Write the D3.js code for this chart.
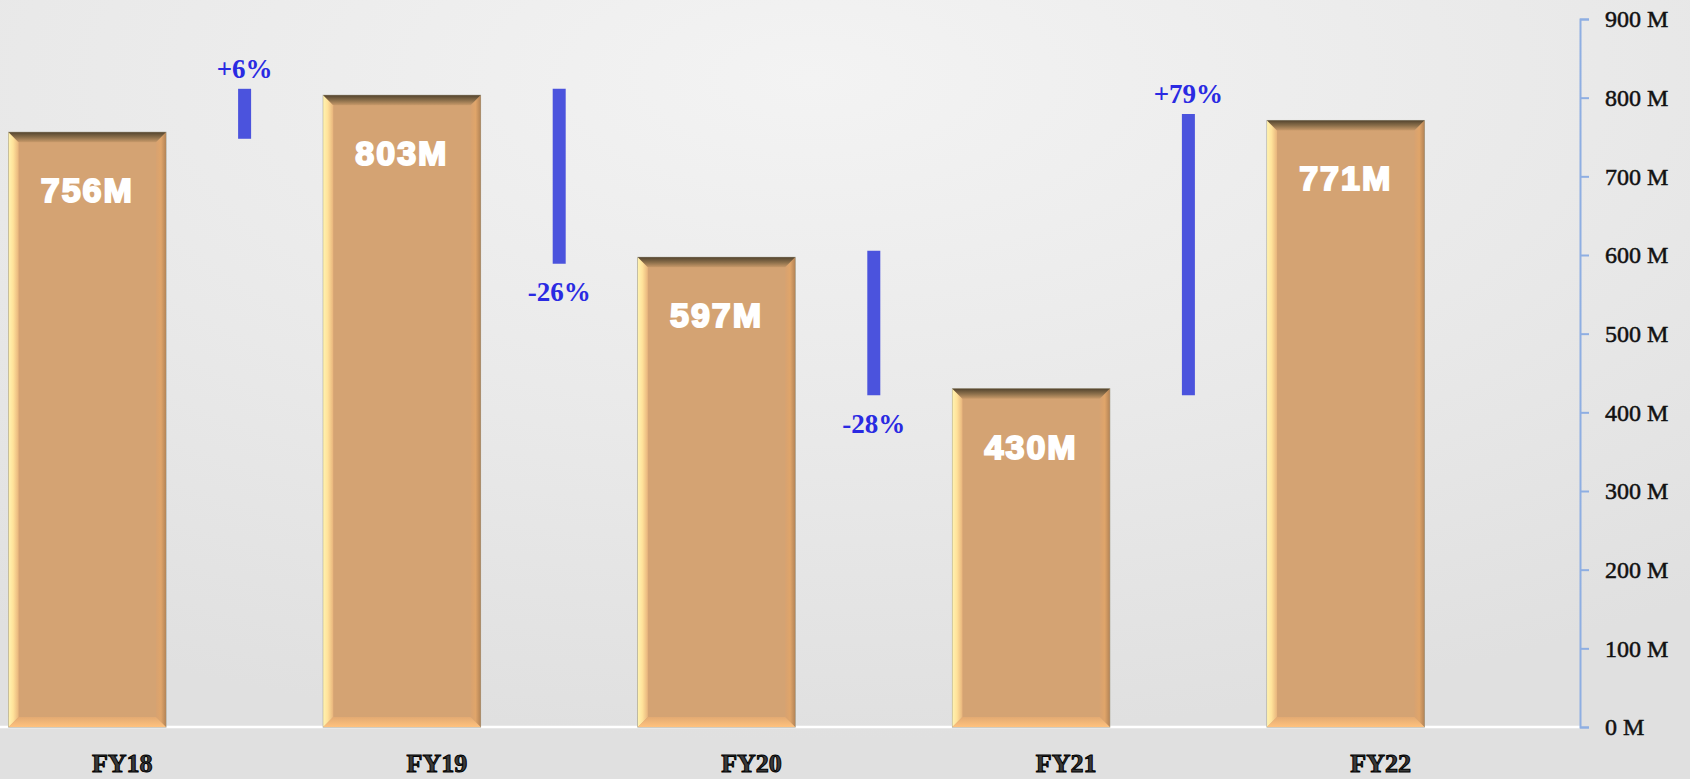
<!DOCTYPE html>
<html>
<head>
<meta charset="utf-8">
<script src="https://cdn.jsdelivr.net/npm/d3@7"></script>
<style>
  html, body { margin: 0; padding: 0; overflow: hidden; }
  svg { display: block; }
</style>
</head>
<body>
<script>
// chart data
const years = ["FY18", "FY19", "FY20", "FY21", "FY22"];
const revenue = [756, 803, 597, 430, 771];          // millions
const barLabels = ["756M", "803M", "597M", "430M", "771M"];
const changeLabels = ["+6%", "-26%", "-28%", "+79%"];
const yTicks = [0, 100, 200, 300, 400, 500, 600, 700, 800, 900];

const W = 1690, H = 779;

const svg = d3.select("body").append("svg")
    .attr("width", W)
    .attr("height", H);

const defs = svg.append("defs");

//background glow, lighter at top centre
const bg = defs.append("radialGradient")
    .attr("id", "bg")
    .attr("cx", "48%").attr("cy", "10%").attr("r", "85%")
    .attr("gradientUnits", "objectBoundingBox");
bg.append("stop").attr("offset", "0%").attr("stop-color", "#f3f3f3");
bg.append("stop").attr("offset", "55%").attr("stop-color", "#e9e9e9");
bg.append("stop").attr("offset", "100%").attr("stop-color", "#e0e0e0");

svg.append("rect")
    .attr("width", W).attr("height", H)
    .attr("fill", "url(#bg)");

// bevel gradients for the bars
function grad(id, x1, y1, x2, y2, stops) {
    const g = defs.append("linearGradient")
        .attr("id", id)
        .attr("x1", x1).attr("y1", y1).attr("x2", x2).attr("y2", y2);
    stops.forEach(s => g.append("stop").attr("offset", s[0]).attr("stop-color", s[1]));
}
grad("bevLeft", "0", "0", "1", "0", [["0%", "#fff3b0"], ["45%", "#ffe29a"], ["100%", "#e8b47c"]]);
grad("bevTop", "0", "0", "0", "1", [["0%", "#54452f"], ["50%", "#8a6e4a"], ["100%", "#c99a6a"]]);
grad("bevRight", "1", "0", "0", "0", [["0%", "#b48456"], ["50%", "#e0a56a"], ["100%", "#d7a271"]]);
grad("bevBottom", "0", "1", "0", "0", [["0%", "#ffc27e"], ["100%", "#e3aa72"]]);

//scales
const x = d3.scaleBand()
    .domain(years)
    .range([-70, 1503])
    .paddingInner(0.5)
    .paddingOuter(0.25);

const y = d3.scaleLinear()
    .domain([0, 900])
    .range([727, 19]);

const axisX = 1580;

// baseline
svg.append("line")
    .attr("x1", 0).attr("x2", axisX)
    .attr("y1", y(0)).attr("y2", y(0))
    .attr("stroke", "#ffffff")
    .attr("stroke-width", 2.5);

// bars
const bev = 10;
const bars = svg.append("g").selectAll("g")
    .data(years)
    .join("g");

bars.each(function(d, i) {
    const g = d3.select(this);
    const x0 = x(d), x1 = x(d) + x.bandwidth();
    const y0 = y(revenue[i]), y1 = y(0);
    g.append("rect")
        .attr("x", x0).attr("y", y0)
        .attr("width", x1 - x0).attr("height", y1 - y0)
        .attr("fill", "#d4a373")
        .attr("stroke", "#9e9a88")
        .attr("stroke-width", 1);
    const poly = (pts, fill) => g.append("polygon")
        .attr("points", pts.map(p => p.join(",")).join(" "))
        .attr("fill", fill);
    poly([[x0, y0], [x0 + bev, y0 + bev], [x0 + bev, y1 - bev], [x0, y1]], "url(#bevLeft)");
    poly([[x1, y0], [x1 - bev, y0 + bev], [x1 - bev, y1 - bev], [x1, y1]], "url(#bevRight)");
    poly([[x0, y1], [x0 + bev, y1 - bev], [x1 - bev, y1 - bev], [x1, y1]], "url(#bevBottom)");
    poly([[x0, y0], [x0 + bev, y0 + bev], [x1 - bev, y0 + bev], [x1, y0]], "url(#bevTop)");
});

// value labels inside the bars
svg.append("g").selectAll("text")
    .data(years)
    .join("text")
    .attr("x", d => x(d) + x.bandwidth() / 2)
    .attr("y", (d, i) => y(revenue[i]) + 70)
    .attr("text-anchor", "middle")
    .attr("font-family", "Liberation Sans, Arial, sans-serif")
    .attr("font-weight", "bold")
    .attr("font-size", 34)
    .attr("letter-spacing", 2)
    .attr("fill", "#ffffff")
    .attr("stroke", "#ffffff")
    .attr("stroke-width", 2)
    .text((d, i) => barLabels[i]);

// change markers between bars
const changes = changeLabels.map((lab, i) => ({
    label: lab,
    cx: (x(years[i]) + x(years[i + 1]) + x.bandwidth()) / 2,
    from: revenue[i],
    to: revenue[i + 1]
}));

svg.append("g").selectAll("line")
    .data(changes)
    .join("line")
    .attr("x1", d => d.cx).attr("x2", d => d.cx)
    .attr("y1", d => y(d.from)).attr("y2", d => y(d.to))
    .attr("stroke", "#4b53dd")
    .attr("stroke-width", 13)
    .attr("stroke-linecap", "square");

svg.append("g").selectAll("text")
    .data(changes)
    .join("text")
    .attr("x", d => d.cx)
    .attr("y", d => d.to > d.from ? y(Math.max(d.from, d.to)) - 17 : y(Math.min(d.from, d.to)) + 44)
    .attr("text-anchor", "middle")
    .attr("font-family", "Liberation Serif, Times New Roman, serif")
    .attr("font-weight", "bold")
    .attr("font-size", 27)
    .attr("fill", "#2a2ae2")
    .text(d => d.label);

// right axis
const yAxis = d3.axisRight(y)
    .tickValues(yTicks)
    .tickSize(9)
    .tickPadding(16)
    .tickFormat(d => d + " M");

const ax = svg.append("g")
    .attr("transform", `translate(${axisX},0)`)
    .call(yAxis);
ax.select(".domain").attr("stroke", "#8eaee2").attr("stroke-width", 2);
ax.selectAll(".tick line").attr("stroke", "#8eaee2").attr("stroke-width", 2);
ax.selectAll(".tick text")
    .attr("font-family", "Liberation Serif, Times New Roman, serif")
    .attr("font-size", 24)
    .attr("fill", "#111")
    .attr("stroke", "#111")
    .attr("stroke-width", 0.5);

// category labels
svg.append("g").selectAll("text")
    .data(years)
    .join("text")
    .attr("x", d => x(d) + x.bandwidth() / 2 + 35)
    .attr("y", 772)
    .attr("text-anchor", "middle")
    .attr("font-family", "Liberation Serif, Times New Roman, serif")
    .attr("font-weight", "bold")
    .attr("font-size", 26)
    .attr("fill", "#3a3a3a")
    .attr("stroke", "#000")
    .attr("stroke-width", 1)
    .text(d => d);
</script>
</body>
</html>
